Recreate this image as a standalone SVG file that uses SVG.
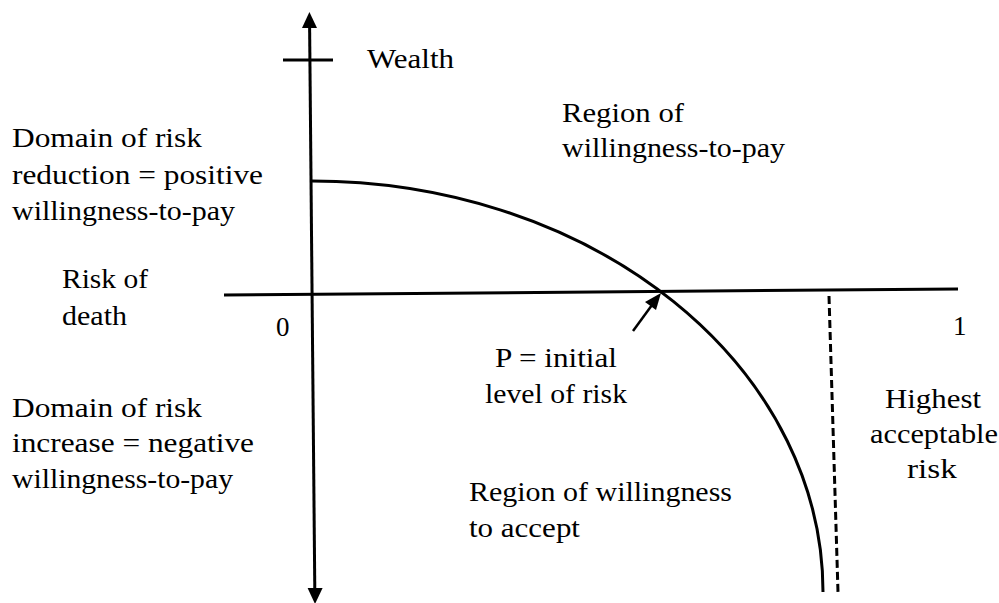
<svg xmlns="http://www.w3.org/2000/svg" width="999" height="603" viewBox="0 0 999 603">
<rect width="999" height="603" fill="#fff"/>
<g id="axes">
<line x1="309.6" y1="26" x2="314.8" y2="590" stroke="#000" stroke-width="3"/>
<polygon points="309.4,12 302,28 317,28" fill="#000"/>
<polygon points="315,604 307.6,588 322.6,588" fill="#000"/>
<line x1="283" y1="60" x2="333" y2="60" stroke="#000" stroke-width="3"/>
<line x1="224" y1="295" x2="958" y2="289" stroke="#000" stroke-width="3"/>
</g>
<g id="curves">
<path d="M312,181 A511,411 0 0 1 823,592" fill="none" stroke="#000" stroke-width="3"/>
<line x1="829" y1="296" x2="838" y2="592" stroke="#000" stroke-width="3" stroke-dasharray="8,4"/>
<line x1="633" y1="331" x2="652" y2="305" stroke="#000" stroke-width="2.5"/>
<polygon points="661,293 645,302 656,310" fill="#000"/>
</g>
<text font-family="Liberation Serif" font-size="27" x="367" y="68" textLength="87" lengthAdjust="spacingAndGlyphs">Wealth</text>
<text font-family="Liberation Serif" font-size="27" x="562" y="122" textLength="122" lengthAdjust="spacingAndGlyphs">Region of</text>
<text font-family="Liberation Serif" font-size="27" x="562" y="157" textLength="223" lengthAdjust="spacingAndGlyphs">willingness-to-pay</text>
<text font-family="Liberation Serif" font-size="27" x="12" y="147" textLength="190" lengthAdjust="spacingAndGlyphs">Domain of risk</text>
<text font-family="Liberation Serif" font-size="27" x="12" y="184" textLength="251" lengthAdjust="spacingAndGlyphs">reduction = positive</text>
<text font-family="Liberation Serif" font-size="27" x="12" y="220" textLength="223" lengthAdjust="spacingAndGlyphs">willingness-to-pay</text>
<text font-family="Liberation Serif" font-size="27" x="62" y="288" textLength="86" lengthAdjust="spacingAndGlyphs">Risk of</text>
<text font-family="Liberation Serif" font-size="27" x="62" y="325" textLength="65" lengthAdjust="spacingAndGlyphs">death</text>
<text font-family="Liberation Serif" font-size="27" x="276" y="336">0</text>
<text font-family="Liberation Serif" font-size="27" x="953" y="335">1</text>
<text font-family="Liberation Serif" font-size="27" x="495" y="367" textLength="122" lengthAdjust="spacingAndGlyphs">P = initial</text>
<text font-family="Liberation Serif" font-size="27" x="485" y="403" textLength="142" lengthAdjust="spacingAndGlyphs">level of risk</text>
<text font-family="Liberation Serif" font-size="27" x="12" y="417" textLength="190" lengthAdjust="spacingAndGlyphs">Domain of risk</text>
<text font-family="Liberation Serif" font-size="27" x="12" y="452" textLength="242" lengthAdjust="spacingAndGlyphs">increase = negative</text>
<text font-family="Liberation Serif" font-size="27" x="12" y="488" textLength="221" lengthAdjust="spacingAndGlyphs">willingness-to-pay</text>
<text font-family="Liberation Serif" font-size="27" x="885" y="408" textLength="96" lengthAdjust="spacingAndGlyphs">Highest</text>
<text font-family="Liberation Serif" font-size="27" x="870" y="443" textLength="128" lengthAdjust="spacingAndGlyphs">acceptable</text>
<text font-family="Liberation Serif" font-size="27" x="907" y="478" textLength="50" lengthAdjust="spacingAndGlyphs">risk</text>
<text font-family="Liberation Serif" font-size="27" x="469" y="501" textLength="263" lengthAdjust="spacingAndGlyphs">Region of willingness</text>
<text font-family="Liberation Serif" font-size="27" x="469" y="537" textLength="111" lengthAdjust="spacingAndGlyphs">to accept</text>
</svg>
